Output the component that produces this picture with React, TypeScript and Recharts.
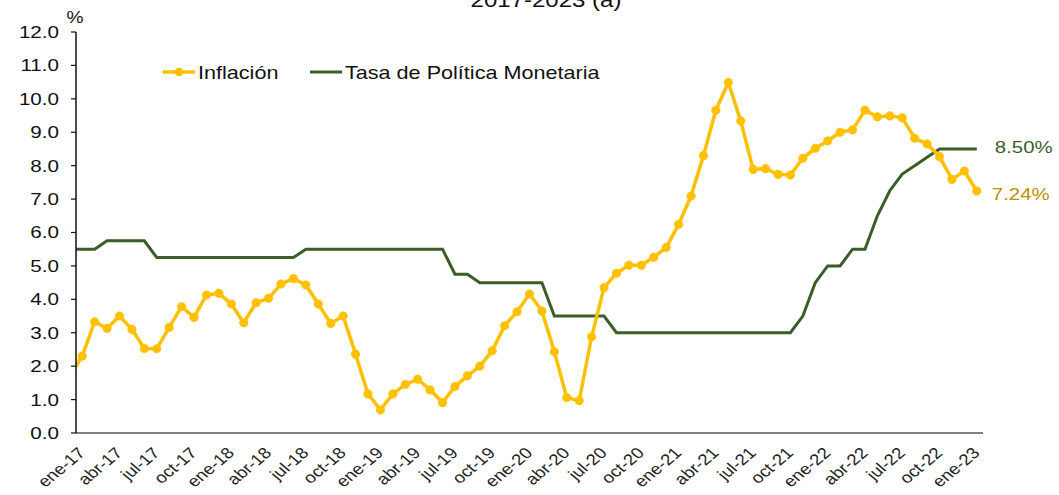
import React from 'react';
import { LineChart, Line, XAxis, YAxis, Legend, LabelList } from 'recharts';

// dic-16 is a lead-in month: its segment is clipped at the value axis, as in the source
const categories: string[] = [
  'dic-16',
  'ene-17', 'feb-17', 'mar-17', 'abr-17', 'may-17', 'jun-17', 'jul-17', 'ago-17', 'sep-17', 'oct-17', 'nov-17', 'dic-17',
  'ene-18', 'feb-18', 'mar-18', 'abr-18', 'may-18', 'jun-18', 'jul-18', 'ago-18', 'sep-18', 'oct-18', 'nov-18', 'dic-18',
  'ene-19', 'feb-19', 'mar-19', 'abr-19', 'may-19', 'jun-19', 'jul-19', 'ago-19', 'sep-19', 'oct-19', 'nov-19', 'dic-19',
  'ene-20', 'feb-20', 'mar-20', 'abr-20', 'may-20', 'jun-20', 'jul-20', 'ago-20', 'sep-20', 'oct-20', 'nov-20', 'dic-20',
  'ene-21', 'feb-21', 'mar-21', 'abr-21', 'may-21', 'jun-21', 'jul-21', 'ago-21', 'sep-21', 'oct-21', 'nov-21', 'dic-21',
  'ene-22', 'feb-22', 'mar-22', 'abr-22', 'may-22', 'jun-22', 'jul-22', 'ago-22', 'sep-22', 'oct-22', 'nov-22', 'dic-22',
  'ene-23',
];

const inflacion: number[] = [
  1.70,
  2.30, 3.33, 3.13, 3.50, 3.10, 2.53, 2.52, 3.16, 3.78, 3.46, 4.13, 4.18,
  3.86, 3.30, 3.90, 4.03, 4.46, 4.62, 4.43, 3.86, 3.28, 3.50, 2.36, 1.17,
  0.69, 1.17, 1.45, 1.61, 1.29, 0.91, 1.39, 1.71, 2.00, 2.46, 3.21, 3.63,
  4.16, 3.65, 2.43, 1.06, 0.97, 2.88, 4.35, 4.78, 5.02, 5.02, 5.26, 5.55,
  6.24, 7.09, 8.30, 9.66, 10.49, 9.34, 7.89, 7.91, 7.74, 7.72, 8.22, 8.52,
  8.74, 9.00, 9.07, 9.66, 9.46, 9.49, 9.43, 8.82, 8.65, 8.27, 7.59, 7.84,
  7.24,
];

const tpm: number[] = [
  5.50,
  5.50, 5.50, 5.75, 5.75, 5.75, 5.75, 5.25, 5.25, 5.25, 5.25, 5.25, 5.25,
  5.25, 5.25, 5.25, 5.25, 5.25, 5.25, 5.50, 5.50, 5.50, 5.50, 5.50, 5.50,
  5.50, 5.50, 5.50, 5.50, 5.50, 5.50, 4.75, 4.75, 4.50, 4.50, 4.50, 4.50,
  4.50, 4.50, 3.50, 3.50, 3.50, 3.50, 3.50, 3.00, 3.00, 3.00, 3.00, 3.00,
  3.00, 3.00, 3.00, 3.00, 3.00, 3.00, 3.00, 3.00, 3.00, 3.00, 3.50, 4.50,
  5.00, 5.00, 5.50, 5.50, 6.50, 7.25, 7.75, 8.00, 8.25, 8.50, 8.50, 8.50,
  8.50,
];

const xTickLabels: string[] = [
  'ene-17', 'abr-17', 'jul-17', 'oct-17', 'ene-18', 'abr-18', 'jul-18', 'oct-18',
  'ene-19', 'abr-19', 'jul-19', 'oct-19', 'ene-20', 'abr-20', 'jul-20', 'oct-20',
  'ene-21', 'abr-21', 'jul-21', 'oct-21', 'ene-22', 'abr-22', 'jul-22', 'oct-22', 'ene-23',
];

const yTicks: number[] = [0, 1, 2, 3, 4, 5, 6, 7, 8, 9, 10, 11, 12];

const seriesNames = { inflacion: 'Inflación', tpm: 'Tasa de Política Monetaria' };
const title = '2017-2023 (a)';

const YELLOW = '#FFC000';
const GREEN = '#3B5E27';
const GOLD_LABEL = '#BF9000';
const FONT = '"Liberation Sans", Arial, sans-serif';
const STRETCH = 1.2;
const LEGEND_H = 24;

const data = categories.map((c, k) => ({
  idx: k - 1,
  label: c,
  inflacion: inflacion[k],
  tpm: tpm[k],
}));
const xTickIdx = xTickLabels.map((l) => categories.indexOf(l) - 1);
const lastIdx = data.length - 1;

const XTick = (p: any) => {
  const lbl = categories[p.payload.value + 1];
  return (
    <text
      transform={`translate(${p.x + 4},${p.y + 21}) scale(${STRETCH},1) rotate(-45)`}
      textAnchor="end"
      fontSize={15.5}
      fontFamily={FONT}
      fill="#222"
    >
      {lbl}
    </text>
  );
};

const YTick = (p: any) => (
  <text
    transform={`translate(${p.x},${p.y}) scale(1.25,1)`}
    textAnchor="end"
    dy="0.36em"
    fontSize={16.5}
    fontFamily={FONT}
    fill="#111"
  >
    {Number(p.payload.value).toFixed(1)}
  </text>
);

const InflDot = (p: any) =>
  p.payload.idx < 0 ? (
    <g key={`d-${p.index}`} />
  ) : (
    <circle key={`d-${p.index}`} cx={p.cx} cy={p.cy} r={4.3} fill={YELLOW} stroke={YELLOW} strokeWidth={0.5} />
  );

const makeEndLabel = (color: string, dx: number, dy: number) => (p: any) => {
  if (p.index !== lastIdx) return null;
  return (
    <text
      key="end"
      transform={`translate(${p.x + dx},${p.y + dy}) scale(${STRETCH},1)`}
      dy="0.36em"
      fontSize={17}
      fontFamily={FONT}
      fill={color}
    >
      {Number(p.value).toFixed(2)}%
    </text>
  );
};

const LegendContent = () => (
  <svg width={480} height={LEGEND_H} style={{ display: 'block', overflow: 'visible' }}>
    <line x1={8} x2={40} y1={12} y2={12} stroke={YELLOW} strokeWidth={3.5} />
    <circle cx={24} cy={12} r={4.3} fill={YELLOW} />
    <text transform={`translate(43,18.5) scale(${STRETCH},1)`} fontSize={18} fontFamily={FONT} fill="#111">
      {seriesNames.inflacion}
    </text>
    <line x1={155} x2={187} y1={12} y2={12} stroke={GREEN} strokeWidth={3} />
    <text transform={`translate(190,18.5) scale(${STRETCH},1)`} fontSize={18} fontFamily={FONT} fill="#111">
      {seriesNames.tpm}
    </text>
  </svg>
);

const PercentLabel = (p: any) => {
  const vb = p.viewBox || {};
  return (
    <text
      transform={`translate(${vb.x + vb.width - 1},${vb.y - 9}) scale(${STRETCH},1)`}
      textAnchor="middle"
      fontSize={16}
      fontFamily={FONT}
      fill="#111"
    >
      %
    </text>
  );
};

export default function App() {
  return (
    <div style={{ position: 'absolute', left: 0, top: 0, width: 1059, height: 495, background: '#fff', overflow: 'hidden' }}>
      <div
        style={{
          position: 'absolute',
          left: 446,
          top: -10,
          width: 200,
          textAlign: 'center',
          fontFamily: FONT,
          fontSize: 20,
          lineHeight: '20px',
          color: '#111',
          transform: `scaleX(${STRETCH})`,
          whiteSpace: 'nowrap',
        }}
      >
        {title}
      </div>
      <LineChart
        width={1059}
        height={495}
        data={data}
        margin={{ top: 32, right: 76, bottom: 2 - LEGEND_H, left: 16 }}
        style={{ position: 'absolute', left: 0, top: 0 }}
      >
        <XAxis
          dataKey="idx"
          type="number"
          domain={[-0.5, 72.5]}
          allowDataOverflow
          ticks={xTickIdx}
          interval={0}
          tick={<XTick />}
          tickLine={false}
          tickSize={0}
          tickMargin={0}
          height={60}
          axisLine={{ stroke: '#808080', strokeWidth: 2 }}
        />
        <YAxis
          type="number"
          domain={[0, 12]}
          ticks={yTicks}
          interval={0}
          width={60}
          tick={<YTick />}
          tickSize={5}
          tickMargin={12}
          tickLine={{ stroke: '#111', strokeWidth: 1.2 }}
          axisLine={{ stroke: '#111', strokeWidth: 1.5 }}
          label={<PercentLabel />}
        />
        <Legend
          content={<LegendContent />}
          wrapperStyle={{ position: 'absolute', top: 60, left: 155, width: 480, height: LEGEND_H }}
        />
        <Line
          type="linear"
          dataKey="tpm"
          name={seriesNames.tpm}
          stroke={GREEN}
          strokeWidth={3}
          dot={false}
          activeDot={false}
          isAnimationActive={false}
        >
          <LabelList dataKey="tpm" content={makeEndLabel(GREEN, 18, -2.5)} />
        </Line>
        <Line
          type="linear"
          dataKey="inflacion"
          name={seriesNames.inflacion}
          stroke={YELLOW}
          strokeWidth={3.5}
          dot={InflDot}
          activeDot={false}
          isAnimationActive={false}
        >
          <LabelList dataKey="inflacion" content={makeEndLabel(GOLD_LABEL, 15, 3)} />
        </Line>
      </LineChart>
    </div>
  );
}
